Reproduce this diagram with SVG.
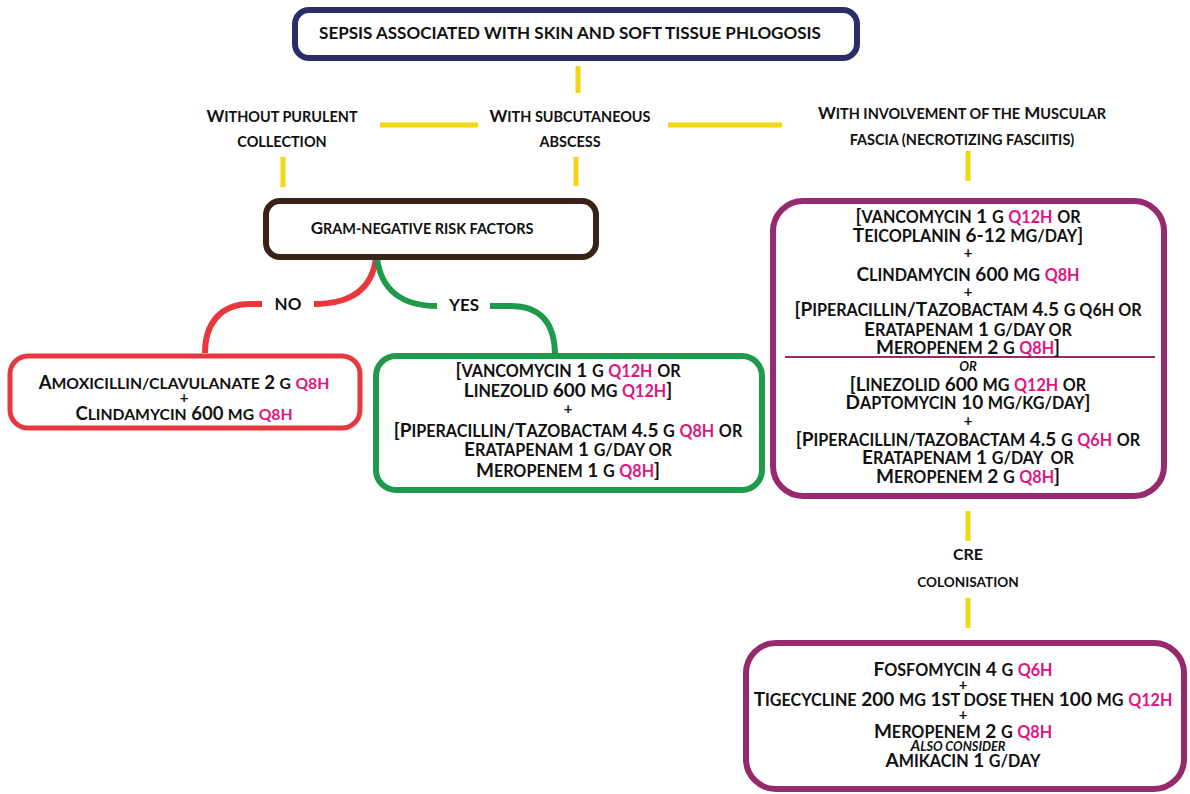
<svg xmlns="http://www.w3.org/2000/svg" width="1190" height="794" viewBox="0 0 1190 794">
<style>
text{font-family:Lato,"Open Sans","Liberation Sans",sans-serif;font-weight:bold;fill:#111;text-anchor:middle}
.s{font-size:0.85em}
.p{fill:#e0157f}
.it{font-style:italic}
.box{fill:#fff}
.y{stroke:#f2d60f;stroke-width:5;fill:none}
.c{fill:none;stroke-width:6}
.m{font-size:19px}
.pl{font-size:15px}
</style>
<rect width="1190" height="794" fill="#fff"/>
<g id="connectors">
<line class="y" x1="578" y1="66" x2="578" y2="93"/>
<line class="y" x1="380" y1="125" x2="478" y2="125"/>
<line class="y" x1="668" y1="125" x2="782" y2="125"/>
<line class="y" x1="283" y1="157" x2="283" y2="187"/>
<line class="y" x1="576" y1="157" x2="576" y2="186"/>
<line class="y" x1="968" y1="151" x2="968" y2="181"/>
<line class="y" x1="968" y1="511" x2="968" y2="541"/>
<line class="y" x1="968" y1="598" x2="968" y2="628"/>
<path class="c" stroke="#e8383d" d="M376,258 C372,290 350,304 314,304"/>
<path class="c" stroke="#e8383d" d="M262,304 L250,304 C222,304 205,322 205,353"/>
<path class="c" stroke="#1e9a4a" d="M377,258 C381,290 402,306 437,306"/>
<path class="c" stroke="#1e9a4a" d="M490,306 L510,306 C540,306 555,322 555,356"/>
<text x="288" y="310" font-size="17">NO</text>
<text x="464" y="311" font-size="17">YES</text>
<text x="282" y="122" font-size="17">W<tspan class="s">ITHOUT PURULENT</tspan><tspan x="282" dy="25" class="s">COLLECTION</tspan></text>
<text x="570" y="122" font-size="17">W<tspan class="s">ITH SUBCUTANEOUS</tspan><tspan x="570" dy="25" class="s">ABSCESS</tspan></text>
<text x="962" y="119" font-size="17">W<tspan class="s">ITH INVOLVEMENT OF THE</tspan> M<tspan class="s">USCULAR</tspan><tspan x="962" dy="26" class="s">FASCIA (NECROTIZING FASCIITIS)</tspan></text>
<text x="968" y="560" font-size="16">CRE<tspan x="968" dy="27" class="s">COLONISATION</tspan></text>
</g>
<g id="n-top">
<rect class="box" x="295" y="10" width="562" height="48" rx="14" stroke="#2b2d6a" stroke-width="6"/>
<text x="570" y="39" font-size="17">SEPSIS ASSOCIATED WITH SKIN AND SOFT TISSUE PHLOGOSIS</text>
</g>
<g id="n-gram">
<rect class="box" x="266" y="201" width="330" height="56" rx="14" stroke="#3a2218" stroke-width="6"/>
<text x="422" y="234" font-size="17">G<tspan class="s">RAM-NEGATIVE RISK FACTORS</tspan></text>
</g>
<g id="n-no">
<rect class="box" x="10" y="356" width="350" height="72" rx="18" stroke="#e8383d" stroke-width="5"/>
<text x="184" y="389" font-size="18.5">A<tspan class="s">MOXICILLIN/CLAVULANATE</tspan> 2 <tspan class="s">G</tspan> <tspan class="s p">Q8H</tspan></text>
<text class="pl" x="184" y="403">+</text>
<text x="184" y="420" font-size="18.5">C<tspan class="s">LINDAMYCIN</tspan> 600 <tspan class="s">MG</tspan> <tspan class="s p">Q8H</tspan></text>
</g>
<g id="n-yes">
<rect class="box" x="376" y="356" width="386" height="134" rx="20" stroke="#1e9a4a" stroke-width="6"/>
<text class="m" x="568" y="377">[<tspan class="s">VANCOMYCIN</tspan> 1 <tspan class="s">G</tspan> <tspan class="s p">Q12H</tspan> <tspan class="s">OR</tspan></text>
<text class="m" x="568" y="397">L<tspan class="s">INEZOLID</tspan> 600 <tspan class="s">MG</tspan> <tspan class="s p">Q12H</tspan>]</text>
<text class="pl" x="568" y="414">+</text>
<text class="m" x="568" y="437">[P<tspan class="s">IPERACILLIN</tspan>/T<tspan class="s">AZOBACTAM</tspan> 4.5 <tspan class="s">G</tspan> <tspan class="s p">Q8H</tspan> <tspan class="s">OR</tspan></text>
<text class="m" x="568" y="456">E<tspan class="s">RATAPENAM</tspan> 1 <tspan class="s">G/DAY OR</tspan></text>
<text class="m" x="568" y="477">M<tspan class="s">EROPENEM</tspan> 1 <tspan class="s">G</tspan> <tspan class="s p">Q8H</tspan>]</text>
</g>
<g id="n-nec">
<rect class="box" x="773" y="201" width="391" height="295" rx="30" stroke="#962a6c" stroke-width="6"/>
<line x1="785" y1="357" x2="1155" y2="357" stroke="#962a6c" stroke-width="2"/>
<text class="m" x="968" y="223">[<tspan class="s">VANCOMYCIN</tspan> 1 <tspan class="s">G</tspan> <tspan class="s p">Q12H</tspan> <tspan class="s">OR</tspan></text>
<text class="m" x="968" y="242">T<tspan class="s">EICOPLANIN</tspan> 6-12 <tspan class="s">MG/DAY</tspan>]</text>
<text class="pl" x="968" y="258">+</text>
<text class="m" x="968" y="281">C<tspan class="s">LINDAMYCIN</tspan> 600 <tspan class="s">MG</tspan> <tspan class="s p">Q8H</tspan></text>
<text class="pl" x="968" y="297">+</text>
<text class="m" x="968" y="316">[P<tspan class="s">IPERACILLIN</tspan>/T<tspan class="s">AZOBACTAM</tspan> 4.5 <tspan class="s">G Q6H OR</tspan></text>
<text class="m" x="968" y="336">E<tspan class="s">RATAPENAM</tspan> 1 <tspan class="s">G/DAY OR</tspan></text>
<text class="m" x="968" y="354">M<tspan class="s">EROPENEM</tspan> 2 <tspan class="s">G</tspan> <tspan class="s p">Q8H</tspan>]</text>
<text class="it" x="968" y="371" font-size="13">OR</text>
<text class="m" x="968" y="391">[L<tspan class="s">INEZOLID</tspan> 600 <tspan class="s">MG</tspan> <tspan class="s p">Q12H</tspan> <tspan class="s">OR</tspan></text>
<text class="m" x="968" y="409">D<tspan class="s">APTOMYCIN</tspan> 10 <tspan class="s">MG/KG/DAY</tspan>]</text>
<text class="pl" x="968" y="426">+</text>
<text class="m" x="968" y="446">[P<tspan class="s">IPERACILLIN/TAZOBACTAM</tspan> 4.5 <tspan class="s">G</tspan> <tspan class="s p">Q6H</tspan> <tspan class="s">OR</tspan></text>
<text class="m" x="968" y="464" xml:space="preserve">E<tspan class="s">RATAPENAM</tspan> 1 <tspan class="s">G/DAY  OR</tspan></text>
<text class="m" x="968" y="483">M<tspan class="s">EROPENEM</tspan> 2 <tspan class="s">G</tspan> <tspan class="s p">Q8H</tspan>]</text>
</g>
<g id="n-cre">
<rect class="box" x="746" y="643" width="438" height="146" rx="30" stroke="#962a6c" stroke-width="6"/>
<text class="m" x="963" y="676">F<tspan class="s">OSFOMYCIN</tspan> 4 <tspan class="s">G</tspan> <tspan class="s p">Q6H</tspan></text>
<text class="pl" x="963" y="690">+</text>
<text class="m" x="963" y="706">T<tspan class="s">IGECYCLINE</tspan> 200 <tspan class="s">MG</tspan> 1<tspan class="s">ST DOSE THEN</tspan> 100 <tspan class="s">MG</tspan> <tspan class="s p">Q12H</tspan></text>
<text class="pl" x="963" y="720">+</text>
<text class="m" x="963" y="738">M<tspan class="s">EROPENEM</tspan> 2 <tspan class="s">G</tspan> <tspan class="s p">Q8H</tspan></text>
<text class="it" x="958" y="751" font-size="15">A<tspan class="s">LSO CONSIDER</tspan></text>
<text class="m" x="963" y="767">A<tspan class="s">MIKACIN</tspan> 1 <tspan class="s">G/DAY</tspan></text>
</g>
</svg>
